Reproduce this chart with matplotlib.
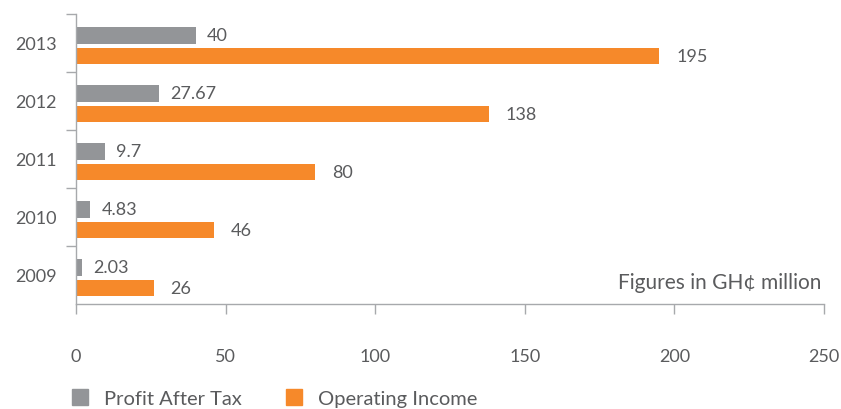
import matplotlib

matplotlib.use("Agg")
import matplotlib.pyplot as plt
from matplotlib.patches import Patch
import numpy as np

years = ["2013", "2012", "2011", "2010", "2009"]
profit_after_tax = [40, 27.67, 9.7, 4.83, 2.03]
operating_income = [195, 138, 80, 46, 26]
profit_labels = ["40", "27.67", "9.7", "4.83", "2.03"]
income_labels = ["195", "138", "80", "46", "26"]
x_ticks = [0, 50, 100, 150, 200, 250]

GREY = "#939598"
ORANGE = "#F6892A"
TEXT = "#5a5b5d"
AXIS = "#a7a9ac"

plt.rcParams["font.family"] = ["Lato", "DejaVu Sans"]


def main():
    fig = plt.figure(figsize=(8.41, 4.10), dpi=100)
    ax = fig.add_axes([76 / 841, 1 - 305 / 410, (824 - 76) / 841, 290 / 410])

    y = np.arange(len(years))
    h = 0.29
    off = 0.045
    ax.barh(y - 0.18 + off, profit_after_tax, height=h, color=GREY, label="Profit After Tax")
    ax.barh(y + 0.18 + off, operating_income, height=h, color=ORANGE, label="Operating Income")

    for i in range(len(years)):
        ax.annotate(profit_labels[i], (profit_after_tax[i], y[i] - 0.18 + off),
                    xytext=(8, 0), textcoords="offset points", va="center", ha="left",
                    fontsize=13, color=TEXT)
        ax.annotate(income_labels[i], (operating_income[i], y[i] + 0.18 + off),
                    xytext=(12, 0), textcoords="offset points", va="center", ha="left",
                    fontsize=13, color=TEXT)

    ax.set_xlim(0, 250)
    ax.set_ylim(len(years) - 0.5, -0.5)

    ax.set_xticks(x_ticks)
    ax.set_xticklabels([str(t) for t in x_ticks])
    ax.tick_params(axis="x", direction="out", length=7, width=1, color=AXIS,
                   pad=25, labelsize=13, labelcolor=TEXT)

    ax.set_yticks(np.arange(-0.5, len(years) - 1, 1.0))
    ax.set_yticklabels([])
    ax.set_yticks(y, minor=True)
    ax.set_yticklabels(years, minor=True)
    ax.tick_params(axis="y", which="major", direction="out", length=7, width=1, color=AXIS)
    ax.tick_params(axis="y", which="minor", length=0, pad=14, labelsize=13, labelcolor=TEXT)

    for side in ["top", "right"]:
        ax.spines[side].set_visible(False)
    for side in ["left", "bottom"]:
        ax.spines[side].set_color(AXIS)
        ax.spines[side].set_linewidth(1)

    ax.text(0.997, 0.075, "Figures in GH\u00a2 million", transform=ax.transAxes,
            ha="right", va="center", fontsize=15, color=TEXT)

    handles = [Patch(color=GREY, label="Profit After Tax"),
               Patch(color=ORANGE, label="Operating Income")]
    fig.legend(handles=handles, loc="center left", bbox_to_anchor=(72 / 841, 1 - 399 / 410),
               ncol=2, frameon=False, fontsize=14.5, labelcolor=TEXT,
               handlelength=0.8, handleheight=0.8, handletextpad=0.8,
               columnspacing=2.2, borderpad=0, borderaxespad=0)

    fig.savefig("out.png", dpi=100)
    plt.close(fig)


if __name__ == "__main__":
    main()
